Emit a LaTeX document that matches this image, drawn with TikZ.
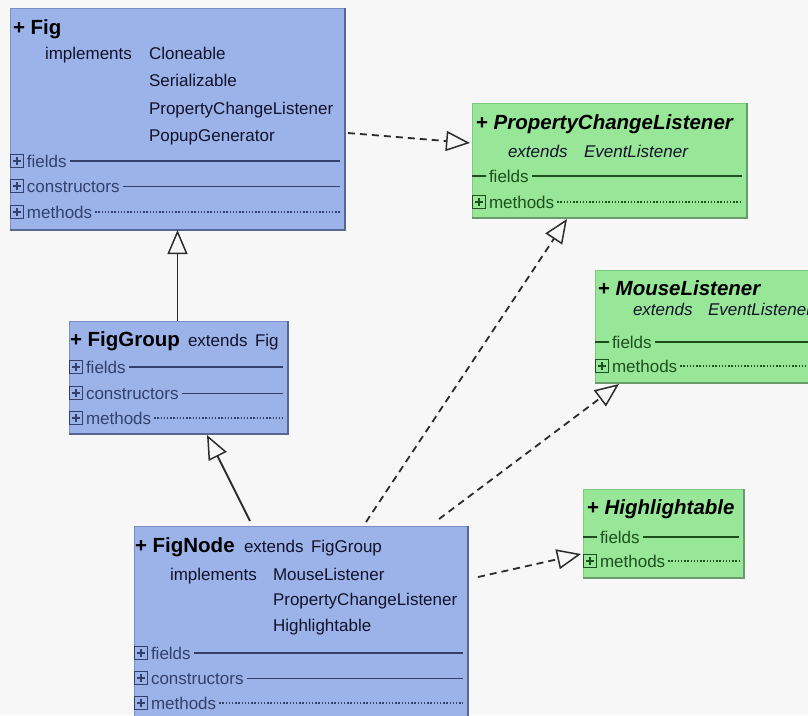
\documentclass[tikz,border=0pt]{standalone}
\usepackage{fontspec}
\setmainfont{Liberation Sans}
\usetikzlibrary{arrows.meta,calc}

\definecolor{bg}{HTML}{F7F7F7}
\definecolor{clsblue}{HTML}{9CB3E9}
\definecolor{clsblueedge}{HTML}{7A8DC4}
\definecolor{bluerimcol}{HTML}{58678F}
\definecolor{clsgreen}{HTML}{98E698}
\definecolor{clsgreenedge}{HTML}{7CCB7C}
\definecolor{greenrimcol}{HTML}{6A9A6A}
\definecolor{rowblue}{HTML}{34406C}
\definecolor{rowgreen}{HTML}{1C501C}
\definecolor{ink}{HTML}{12122A}
\definecolor{wire}{HTML}{2C2C2C}

\tikzset{
  cls/.style={rectangle, inner sep=0pt, outer sep=0pt, anchor=north west, line width=1pt},
  bluecls/.style={cls, fill=clsblue, draw=clsblueedge},
  greencls/.style={cls, fill=clsgreen, draw=clsgreenedge},
  rim/.style={line width=1.8pt, draw=#1},
  body/.style={anchor=base west, inner sep=0pt, outer sep=0pt, text=ink,
    font=\fontsize{17}{20}\selectfont},
  ibody/.style={body, font=\fontsize{17}{20}\selectfont\itshape},
  title/.style={body, text=black, font=\fontsize{20.5}{24}\selectfont\bfseries},
  rowlbl/.style={body, text=#1},
  solidrow/.style={line width=1.8pt},
  dotrow/.style={line width=1.4pt, dash pattern=on 1.4pt off 1.8pt},
  icon/.style={rectangle, draw=#1, line width=1.3pt, minimum size=12.5pt, inner sep=0pt,
    path picture={\draw[#1, line width=1.3pt]
      ([xshift=2.4pt]path picture bounding box.west) -- ([xshift=-2.4pt]path picture bounding box.east)
      ([yshift=-2.4pt]path picture bounding box.north) -- ([yshift=2.4pt]path picture bounding box.south);}},
  hollowtip/.style={-{Triangle[length=24pt, width=20pt, fill=bg, line width=1.5pt]}},
  realize/.style={hollowtip, draw=wire, line width=1.8pt, dash pattern=on 7pt off 5pt},
  inherit/.style={hollowtip, draw=wire, line width=1.8pt},
}

% compartment row with a [+] toggle: id, box, box left x, y centre, label, colour, rule style
\newcommand\plusrow[7]{%
  \node[icon=#6] (#1-icon) at (#3+7,#4) {};
  \node[rowlbl=#6] (#1) at (#3+17,#4+6) {#5};
  \draw[#6,#7] ([xshift=3pt]#1.east) -- ($(#1.east -| #2.east)+(-5,0)$);
}
% compartment row led by a short bar: id, box, box left x, y centre, label, colour, rule style
\newcommand\barrow[7]{%
  \node[rowlbl=#6] (#1) at (#3+17,#4+6) {#5};
  \draw[#6,solidrow] (#3,#4) -- ([xshift=-3pt]#1.west);
  \draw[#6,#7] ([xshift=3pt]#1.east) -- ($(#1.east -| #2.east)+(-5,0)$);
}
% darker right and bottom edge of a class box
\newcommand\boxrim[2]{%
  \draw[rim=#2] (#1.north east) -- (#1.south east) -- (#1.south west);
}

\begin{document}
\begin{tikzpicture}[x=1pt, y=-1pt]
\useasboundingbox (0,0) rectangle (808,715);
\fill[bg] (0,0) rectangle (808,715);
\clip (0,0) rectangle (808,715);

% ---------- Fig ----------
\node[bluecls, minimum width=335pt, minimum height=222pt] (fig) at (10,8) {};
\boxrim{fig}{bluerimcol}
\node[title] (figT) at (13,34) {+ Fig};
\node[body] (figImpl) at (45,59) {implements};
\node[body] (figI1) at (149,59) {Cloneable};
\node[body] (figI2) at (149,86) {Serializable};
\node[body] (figI3) at (149,114) {PropertyChangeListener};
\node[body] (figI4) at (149,141) {PopupGenerator};
\plusrow{figF}{fig}{10}{161}{fields}{rowblue}{solidrow}
\plusrow{figC}{fig}{10}{186}{constructors}{rowblue}{solidrow}
\plusrow{figM}{fig}{10}{212}{methods}{rowblue}{dotrow}

% ---------- PropertyChangeListener ----------
\node[greencls, minimum width=275pt, minimum height=115pt] (pcl) at (472,103) {};
\boxrim{pcl}{greenrimcol}
\node[title] (pclT) at (476,129) {+ \itshape PropertyChangeListener};
\node[ibody] (pclE) at (508,157) {extends};
\node[ibody] (pclS) at (584,157) {EventListener};
\barrow{pclF}{pcl}{472}{176}{fields}{rowgreen}{solidrow}
\plusrow{pclM}{pcl}{472}{202}{methods}{rowgreen}{dotrow}

% ---------- MouseListener (runs past the right edge) ----------
\node[greencls, minimum width=240pt, minimum height=113pt] (ml) at (595,270) {};
\boxrim{ml}{greenrimcol}
\node[title] (mlT) at (598,295) {+ \itshape MouseListener};
\node[ibody] (mlE) at (633,315) {extends};
\node[ibody] (mlS) at (708,315) {EventListener};
\barrow{mlF}{ml}{595}{342}{fields}{rowgreen}{solidrow}
\plusrow{mlM}{ml}{595}{366}{methods}{rowgreen}{dotrow}

% ---------- Highlightable ----------
\node[greencls, minimum width=161pt, minimum height=89pt] (hl) at (583,489) {};
\boxrim{hl}{greenrimcol}
\node[title] (hlT) at (587,514) {+ \itshape Highlightable};
\barrow{hlF}{hl}{583}{537}{fields}{rowgreen}{solidrow}
\plusrow{hlM}{hl}{583}{561}{methods}{rowgreen}{dotrow}

% ---------- FigGroup ----------
\node[bluecls, minimum width=219pt, minimum height=113pt] (fg) at (69,321) {};
\boxrim{fg}{bluerimcol}
\node[title] (fgT) at (70,346) {+ FigGroup};
\node[body] (fgE) at (188,346) {extends\, Fig};
\plusrow{fgF}{fg}{69}{367}{fields}{rowblue}{solidrow}
\plusrow{fgC}{fg}{69}{393}{constructors}{rowblue}{solidrow}
\plusrow{fgM}{fg}{69}{418}{methods}{rowblue}{dotrow}

% ---------- FigNode (runs past the bottom edge) ----------
\node[bluecls, minimum width=334pt, minimum height=214pt] (fn) at (134,526) {};
\boxrim{fn}{bluerimcol}
\node[title] (fnT) at (135,552) {+ FigNode};
\node[body] (fnE) at (244,552) {extends\, FigGroup};
\node[body] (fnImpl) at (170,580) {implements};
\node[body] (fnI1) at (273,580) {MouseListener};
\node[body] (fnI2) at (273,605) {PropertyChangeListener};
\node[body] (fnI3) at (273,631) {Highlightable};
\plusrow{fnF}{fn}{134}{653}{fields}{rowblue}{solidrow}
\plusrow{fnC}{fn}{134}{678}{constructors}{rowblue}{solidrow}
\plusrow{fnM}{fn}{134}{703}{methods}{rowblue}{dotrow}

% ---------- relations ----------
\draw[realize] ($(fig.north east)+(3,125)$) -- ($(pcl.north west)+(-2,40)$);
\draw[inherit] (fig.south |- fg.north) -- (fig.south);
\draw[inherit] ($(fn.north west)+(116,-5)$) -- ($(fg.south west)+(138,1)$);
\draw[realize] ($(fn.north west)+(232,-4)$) -- ($(pcl.south west)+(95,1)$);
\draw[realize] ($(fn.north west)+(305,-7)$) -- ($(ml.south west)+(24,1)$);
\draw[realize] ($(fn.north east)+(10,51)$) -- ($(hl.north west)+(-2,65)$);
\end{tikzpicture}
\end{document}
